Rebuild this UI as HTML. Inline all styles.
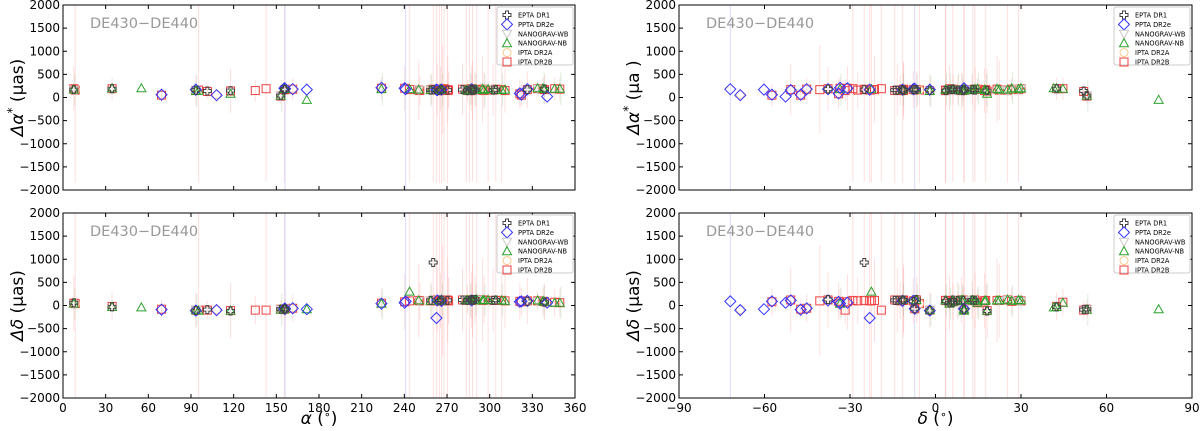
<!DOCTYPE html>
<html><head><meta charset="utf-8"><style>
html,body{margin:0;padding:0;background:#fff;}
svg{display:block;font-family:"DejaVu Sans","Liberation Sans",sans-serif;}
</style></head><body>
<svg id="chart" width="1200" height="431" viewBox="0 0 1200 431" xmlns="http://www.w3.org/2000/svg"></svg>
<script>
// ---- data ----
const pulsarRA  = [7.6,8.6,34.5,55.1,69.3,93.4,95.3,101.5,108.0,117.8,135.2,142.8,153.1,155.7,156.2,161.5,171.4,223.9,240.2,240.9,243.7,250.1,250.9,258.5,260.3,262.6,263.2,264.7,265.4,266.1,266.9,267.9,270.3,270.5,271.1,280.9,283.5,284.4,285.8,287.4,287.5,287.9,288.0,289.7,290.9,295.0,296.0,298.9,302.5,304.3,308.4,310.8,321.2,322.3,326.5,333.7,337.5,338.6,345.7,349.3,171.4,340.4];
const pulsarDec = [4.9,-5.6,42.5,41.5,-47.3,-2.0,10.0,52.0,-68.5,18.1,-31.7,-19.0,53.1,10.0,-7.3,-45.2,78.3,-33.5,-30.9,-72.0,-22.5,22.4,-12.4,7.8,-25.0,-23.1,-50.8,3.6,13.9,-11.6,-40.6,-29.0,-14.3,-21.4,-27.3,-11.2,13.1,9.7,3.5,-37.7,12.9,13.8,-11.2,-6.7,25.3,21.6,9.1,29.1,-13.4,6.05,17.6,17.2,-34.0,-57.4,-7.8,30.0,26.7,6.2,44.7,14.7,-60.2,-52.6];
const eptaIdx  = [0,2,5,7,9,12,13,14,23,24,27,29,32,35,37,39,40,41,42,43,48,49,54,57];
const eptaDra  = [170,190,160,140,150,40,180,170,160,170,150,170,160,170,150,180,170,160,150,170,160,170,170,180];
const eptaDdec = [60,-30,-110,-90,-120,-80,-90,-70,110,930,100,120,110,120,110,130,120,110,120,130,110,120,90,70];
const pptaIdx  = [4,5,8,13,14,15,17,18,19,25,26,29,39,52,53,54,60,61];
const pptaDra  = [60,170,50,200,190,180,210,200,180,170,160,170,180,90,60,180,170,20];
const pptaDdec = [-90,-110,-100,-70,-70,-60,40,60,90,-270,110,100,110,80,90,100,-80,60];
const nbIdx    = [0,2,3,5,6,9,12,13,16,17,20,21,23,27,28,29,36,37,38,40,41,43,44,45,46,47,49,50,51,55,56,57,58,59];
const nbDra    = [170,200,200,140,150,80,40,180,-50,180,180,170,160,170,180,160,170,150,170,160,180,170,170,190,160,180,170,160,170,200,200,180,190,190];
const nbDdec   = [40,-30,-40,-100,-110,-110,-90,-80,-80,40,300,110,100,110,100,120,110,120,110,120,110,120,130,110,120,120,110,110,100,110,100,80,60,60];
const wbIdx    = [0,5,12,13,21,23,36,37,40,44,47,55];
const wbDra    = [160,150,50,170,160,170,160,140,170,150,180,190];
const wbDdec   = [30,-90,-80,-70,100,110,120,110,110,120,100,90];
const dr2aIdx  = [1,5,8,15,23,29,39,54];
const dr2aDra  = [160,150,60,190,170,160,180,170];
const dr2aDdec = [40,-100,-90,-50,110,110,120,90];
const dr2bIdx  = [0,1,2,4,5,6,7,9,10,11,12,13,14,15,17,18,20,21,22,23,24,25,26,27,28,29,30,31,32,33,34,35,36,37,38,39,40,41,42,43,44,45,46,47,48,49,50,51,52,53,54,55,56,57,58,59];
const dr2bDra  = [190,160,190,50,150,160,130,140,150,190,30,170,170,180,200,200,170,160,150,170,180,160,170,150,180,160,170,190,150,170,160,180,170,150,160,190,170,180,150,170,160,180,150,170,160,180,170,150,80,50,170,190,180,170,190,180];
const dr2bDdec = [50,40,-20,-80,-100,-100,-100,-110,-100,-100,-80,-80,-70,-60,50,80,100,110,100,100,110,100,120,110,100,110,100,110,120,110,100,120,110,120,110,120,110,120,110,120,120,110,120,110,110,110,110,100,90,80,100,100,90,80,70,60];
const dr2bErr  = [600,2500,300,200,400,2500,200,600,300,2500,200,2500,200,300,300,600,2500,800,400,400,2500,2500,700,2500,600,2500,1200,2500,2500,900,500,700,2500,300,2500,600,400,2500,800,500,2500,900,500,2500,700,2500,2500,600,400,300,500,200,300,400,300,300];
const xTicksRA  = [0,30,60,90,120,150,180,210,240,270,300,330,360];
const xTicksDec = [-90,-60,-30,0,30,60,90];
const yTicks    = [-2000,-1500,-1000,-500,0,500,1000,1500,2000];
const legendLabels = ['EPTA DR1','PPTA DR2e','NANOGRAV-WB','NANOGRAV-NB','IPTA DR2A','IPTA DR2B'];

// ---- drawing ----
const NS='http://www.w3.org/2000/svg';
const svg=document.getElementById('chart');
function mk(tag,attrs,parent){const e=document.createElementNS(NS,tag);for(const k in attrs)e.setAttribute(k,attrs[k]);(parent||svg).appendChild(e);return e;}

const panels=[
 {id:'top-left',x0:63,x1:575,y0:5,y1:190,xmin:0,xmax:360,useRA:true,comp:'dra',xt:xTicksRA,showX:false},
 {id:'bottom-left',x0:63,x1:575,y0:213,y1:398,xmin:0,xmax:360,useRA:true,comp:'ddec',xt:xTicksRA,showX:true},
 {id:'top-right',x0:679,x1:1192,y0:5,y1:190,xmin:-90,xmax:90,useRA:false,comp:'dra',xt:xTicksDec,showX:false},
 {id:'bottom-right',x0:679,x1:1192,y0:213,y1:398,xmin:-90,xmax:90,useRA:false,comp:'ddec',xt:xTicksDec,showX:true}
];

function marker(g,type,x,y){
  let e;
  if(type==='square'){e=mk('rect',{x:x-4,y:y-4,width:8,height:8,fill:'none',stroke:'#f04040','stroke-width':1},g);}
  else if(type==='diamond'){e=mk('path',{d:`M${x},${y-5.5}L${x+5.5},${y}L${x},${y+5.5}L${x-5.5},${y}Z`,fill:'none',stroke:'#3333ff','stroke-width':1},g);}
  else if(type==='tri'){e=mk('path',{d:`M${x},${y-4.5}L${x+4.5},${y+3.5}L${x-4.5},${y+3.5}Z`,fill:'none',stroke:'#2ca02c','stroke-width':1},g);}
  else if(type==='dtri'){e=mk('path',{d:`M${x},${y+4.5}L${x+4.5},${y-3.5}L${x-4.5},${y-3.5}Z`,fill:'none',stroke:'#c8c8c8','stroke-width':1},g);}
  else if(type==='circle'){e=mk('circle',{cx:x,cy:y,r:4,fill:'none',stroke:'#fbc890','stroke-width':1},g);}
  else {const a=1.5,b=4;e=mk('path',{d:`M${x-a},${y-b}H${x+a}V${y-a}H${x+b}V${y+a}H${x+a}V${y+b}H${x-a}V${y+a}H${x-b}V${y-a}H${x-a}Z`,fill:'none',stroke:'#444','stroke-width':1},g);}
  return e;
}

const series=[
 {name:'ipta-dr2b',type:'square',idx:dr2bIdx,dra:dr2bDra,ddec:dr2bDdec},
 {name:'ipta-dr2a',type:'circle',idx:dr2aIdx,dra:dr2aDra,ddec:dr2aDdec},
 {name:'nanograv-wb',type:'dtri',idx:wbIdx,dra:wbDra,ddec:wbDdec},
 {name:'nanograv-nb',type:'tri',idx:nbIdx,dra:nbDra,ddec:nbDdec},
 {name:'ppta-dr2e',type:'diamond',idx:pptaIdx,dra:pptaDra,ddec:pptaDdec},
 {name:'epta-dr1',type:'plus',idx:eptaIdx,dra:eptaDra,ddec:eptaDdec}
];

panels.forEach(p=>{
  const g=mk('g',{});
  
  
  const sx=v=>p.x0+(v-p.xmin)/(p.xmax-p.xmin)*(p.x1-p.x0);
  const sy=v=>p.y1-(v+2000)/4000*(p.y1-p.y0);
  const clip='clip-'+p.id;
  const cp=mk('clipPath',{id:clip},g);mk('rect',{x:p.x0,y:p.y0,width:p.x1-p.x0,height:p.y1-p.y0},cp);
  const plot=mk('g',{'clip-path':`url(#${clip})`},g);
  const eg=mk('g',{},plot);
  
  
  dr2bIdx.forEach((pi,k)=>{
    const xv=p.useRA?pulsarRA[pi]:pulsarDec[pi];
    const yv=p.comp==='dra'?dr2bDra[k]:dr2bDdec[k];
    const er=dr2bErr[k]*(p.comp==='dra'?0.8:1);
    mk('line',{x1:sx(xv),x2:sx(xv),y1:sy(yv-er),y2:sy(yv+er),stroke:'rgba(255,110,110,0.22)','stroke-width':1},eg);
  });
  pptaIdx.forEach((pi,k)=>{
    if(pi!==14&&pi!==19)return;
    const xv=p.useRA?pulsarRA[pi]:pulsarDec[pi];
    mk('line',{x1:sx(xv),x2:sx(xv),y1:sy(-2500),y2:sy(2500),stroke:'rgba(110,110,255,0.25)','stroke-width':1},eg);
  });
  nbIdx.forEach((pi,k)=>{
    if(k%3)return;
    const xv=p.useRA?pulsarRA[pi]:pulsarDec[pi];
    const yv=p.comp==='dra'?nbDra[k]:nbDdec[k];
    mk('line',{x1:sx(xv)+1,x2:sx(xv)+1,y1:sy(yv-350),y2:sy(yv+350),stroke:'rgba(120,180,120,0.25)','stroke-width':1},eg);
  });
  series.forEach(s=>{
    const sg=mk('g',{},plot);
    
    
    s.idx.forEach((pi,k)=>{
      const xv=p.useRA?pulsarRA[pi]:pulsarDec[pi];
      const yv=p.comp==='dra'?s.dra[k]:s.ddec[k];
      const m=marker(sg,s.type,sx(xv),sy(yv));
      
      
    });
  });
  const fr=mk('rect',{x:p.x0,y:p.y0,width:p.x1-p.x0,height:p.y1-p.y0,fill:'none',stroke:'#000','stroke-width':1},g);
  
  
  p.xt.forEach(t=>{
    const x=sx(t);
    mk('line',{x1:x,x2:x,y1:p.y1,y2:p.y1-4,stroke:'#000'},g);
    mk('line',{x1:x,x2:x,y1:p.y0,y2:p.y0+4,stroke:'#000'},g);
    if(p.showX){const tl=mk('text',{x:x,y:p.y1+14,'font-size':12,'text-anchor':'middle',fill:'#000'},g);tl.textContent=String(t).replace('-','\u2212');
      
      }
  });
  yTicks.forEach(t=>{
    const y=sy(t);
    mk('line',{x1:p.x0,x2:p.x0+4,y1:y,y2:y,stroke:'#000'},g);
    mk('line',{x1:p.x1,x2:p.x1-4,y1:y,y2:y,stroke:'#000'},g);
    const tl=mk('text',{x:p.x0-3,y:y+4,'font-size':12,'text-anchor':'end',fill:'#000'},g);tl.textContent=String(t).replace('-','\u2212');
    
    
  });
  const an=mk('text',{x:p.x0+27,y:p.y0+23,'font-size':14.5,fill:'#999'},g);an.textContent='DE430\u2212DE440';
  
  
  const ylx=p.x0-40, ylc=(p.y0+p.y1)/2;
  const yl=mk('text',{x:ylx,y:ylc,'font-size':17,'text-anchor':'middle',transform:`rotate(-90 ${ylx} ${ylc})`,fill:'#000'},g);
  if(p.comp==='dra'){yl.innerHTML=p.useRA?'<tspan font-style="italic">Δα</tspan><tspan dy="-7" font-size="12">*</tspan><tspan dy="7"> (μas)</tspan>':'<tspan font-style="italic">Δα</tspan><tspan dy="-7" font-size="12">*</tspan><tspan dy="7"> (μa  )</tspan>';}
  else yl.innerHTML='<tspan font-style="italic">Δδ</tspan> (μas)';
  
  
  if(p.showX){
    const xl=mk('text',{x:(p.x0+p.x1)/2,y:424,'font-size':17,'text-anchor':'middle',fill:'#000'},g);
    xl.innerHTML=(p.useRA?'<tspan font-style="italic">α</tspan>':'<tspan font-style="italic">δ</tspan>')+' (<tspan dy="-6" font-size="11">∘</tspan><tspan dy="6">)</tspan>';
    
    
  }
  const lg=mk('g',{},g);
  
  
  const lx=p.x1-78, ly=p.y0+2;
  mk('rect',{x:lx,y:ly,width:76,height:58,fill:'#fff',stroke:'#ccc','stroke-width':1,rx:2},lg);
  const ltypes=['plus','diamond','dtri','tri','circle','square'];
  legendLabels.forEach((lab,i)=>{
    const yy=ly+8+i*9.4;
    const m=marker(lg,ltypes[i],lx+10,yy);
    
    
    const t=mk('text',{x:lx+21,y:yy+2.5,'font-size':6.6,fill:'#000'},lg);t.textContent=lab;
    
    
  });
});
</script>
</body></html>
